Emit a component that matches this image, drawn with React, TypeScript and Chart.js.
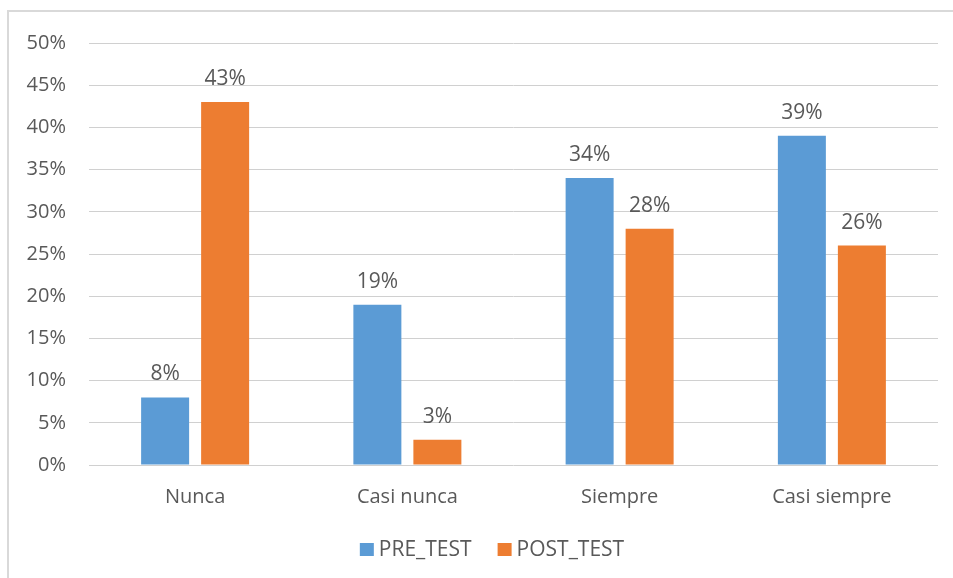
import React, { useEffect, useRef } from "react";
import { Chart, registerables } from "chart.js";

Chart.register(...registerables);

const categories = ["Nunca", "Casi nunca", "Siempre", "Casi siempre"];
const preTest = [8, 19, 34, 39];
const postTest = [43, 3, 28, 26];
const seriesNames = ["PRE_TEST", "POST_TEST"];

const BLUE = "#5B9BD5";
const ORANGE = "#ED7D31";
const TEXT = "#595959";
const FONT = "'Open Sans', sans-serif";

const dataLabels = {
  id: "dataLabels",
  afterDatasetsDraw(chart: any) {
    const ctx = chart.ctx;
    ctx.save();
    ctx.font = `21px ${FONT}`;
    ctx.fillStyle = TEXT;
    ctx.textAlign = "center";
    ctx.textBaseline = "alphabetic";
    chart.data.datasets.forEach((ds: any, i: number) => {
      const meta = chart.getDatasetMeta(i);
      meta.data.forEach((bar: any, j: number) => {
        ctx.fillText(`${ds.data[j]}%`, bar.x, bar.y - 17);
      });
    });
    ctx.restore();
  },
};

// Bottom legend drawn with Excel-like spacing
const customLegend = {
  id: "customLegend",
  afterDraw(chart: any) {
    const ctx = chart.ctx;
    ctx.save();
    ctx.font = `21px ${FONT}`;
    ctx.textBaseline = "alphabetic";
    ctx.textAlign = "left";
    const box = 14;
    const boxH = 13;
    const gapText = 5;
    const gapItem = 26;
    const items = chart.data.datasets.map((ds: any) => ({
      label: ds.label,
      color: ds.backgroundColor,
      w: ctx.measureText(ds.label).width,
    }));
    const total =
      items.reduce((s: number, it: any) => s + box + gapText + it.w, 0) + gapItem * (items.length - 1);
    let x = chart.width / 2 - total / 2;
    const baseline = chart.height - 22;
    items.forEach((it: any) => {
      ctx.fillStyle = it.color;
      ctx.fillRect(x, baseline - boxH, box, boxH);
      ctx.fillStyle = TEXT;
      ctx.fillText(it.label, x + box + gapText, baseline);
      x += box + gapText + it.w + gapItem;
    });
    ctx.restore();
  },
};

export default function App() {
  const ref = useRef<HTMLCanvasElement>(null);
  useEffect(() => {
    if (!ref.current) return;
    const chart = new Chart(ref.current, {
      type: "bar",
      data: {
        labels: categories,
        datasets: [
          { label: seriesNames[0], data: preTest, backgroundColor: BLUE, barPercentage: 0.8, categoryPercentage: 0.5654 },
          { label: seriesNames[1], data: postTest, backgroundColor: ORANGE, barPercentage: 0.8, categoryPercentage: 0.5654 },
        ],
      },
      options: {
        animation: false,
        responsive: false,
        maintainAspectRatio: false,
        layout: { padding: { top: 14, right: 37, bottom: 48, left: 0 } },
        plugins: {
          tooltip: { enabled: false },
          legend: { display: false },
        },
        scales: {
          x: {
            grid: { display: false, drawTicks: false },
            border: { display: false },
            afterFit: (s: any) => { s.height += 1; },
            ticks: { color: TEXT, font: { family: FONT, size: 20 }, padding: 20 },
          },
          y: {
            min: 0,
            max: 50,
            afterFit: (s: any) => { s.width = 80; },
            grid: { color: "#d0d0d0", lineWidth: 1, drawTicks: false },
            border: { display: false },
            ticks: {
              stepSize: 5,
              color: TEXT,
              padding: 23,
              font: { family: FONT, size: 20 },
              callback: (v: any) => `${v}%`,
            },
          },
        },
      },
      plugins: [dataLabels, customLegend],
    });
    return () => chart.destroy();
  }, []);

  return (
    <div
      style={{
        position: "fixed",
        left: 7,
        top: 10,
        width: 1000,
        height: 700,
        border: "2px solid #d9d9d9",
        boxSizing: "border-box",
        background: "#fff",
      }}
    >
      <canvas
        ref={ref}
        width={966}
        height={570}
        style={{ display: "block", width: 966, height: 570, marginTop: -4 }}
      />
    </div>
  );
}
